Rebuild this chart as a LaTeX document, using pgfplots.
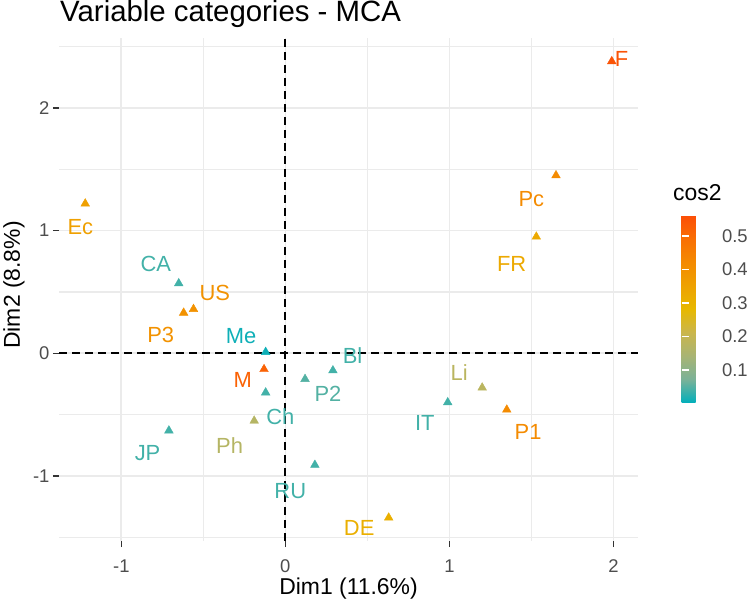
\documentclass[border=0pt]{standalone}
\usepackage{pgfplots}
\pgfplotsset{compat=1.18}
\usepackage{pgfplotstable}
\usepackage{fontspec}
\setmainfont{Liberation Sans}

\definecolor{gridc}{RGB}{235,235,235}
\definecolor{tickc}{RGB}{51,51,51}
\definecolor{ticklab}{RGB}{77,77,77}

% point coordinates and cos2
\pgfplotstableread{
x y cos2
1.99 2.38 0.55
1.65 1.45 0.42
1.53 0.95 0.33
1.20 -0.28 0.18
0.99 -0.40 0.04
1.35 -0.46 0.42
-1.22 1.22 0.36
-0.65 0.57 0.04
-0.56 0.36 0.40
-0.62 0.33 0.40
-0.12 0.01 0.01
-0.13 -0.13 0.52
-0.12 -0.32 0.04
-0.19 -0.55 0.17
0.12 -0.21 0.05
0.29 -0.14 0.04
0.18 -0.91 0.04
0.63 -1.34 0.31
-0.71 -0.63 0.04
}\mcadata

\pgfplotsset{lblstyle/.style={scatter, only marks, mark=none, point meta=explicit,
  every node near coord/.append style={anchor=center, font=\fontsize{22}{24}\selectfont}}}
\newcommand{\lbl}[4]{\addplot[lblstyle, nodes near coords={\pgfplotscolormapdefinemappedcolor{\pgfplotspointmetatransformed}\textcolor{mapped color}{#1}}] coordinates {(#2,#3) [#4]};}

\begin{document}
\begin{tikzpicture}
\begin{axis}[
  at={(59bp,63bp)}, anchor=south west,
  scale only axis, width=579bp, height=503bp,
  xmin=-1.38, xmax=2.15, ymin=-1.53, ymax=2.57,
  axis x line*=bottom, axis y line*=left,
  axis line style={draw=none},
  xtick={-1,0,1,2}, xticklabels={-1,0,1,2},
  ytick={-1,0,1,2}, yticklabels={-1,0,1,2},
  minor xtick={-0.5,0.5,1.5}, minor ytick={-1.5,-0.5,0.5,1.5,2.5},
  grid=both,
  major grid style={draw=gridc, line width=1.7bp},
  minor grid style={draw=gridc, line width=1.2bp},
  minor tick length=0pt,
  major tick length=6bp,
  tick align=outside,
  tick style={draw=tickc, line width=1.4bp},
  ticklabel style={font=\fontsize{18.5}{20}\selectfont, text=ticklab},
  xticklabel style={yshift=-9bp},
  xlabel={Dim1 (11.6\%)}, ylabel={Dim2 (8.8\%)},
  label style={font=\fontsize{23}{26}\selectfont},
  xlabel style={at={(axis description cs:0.5,-0.095)}, anchor=center},
  ylabel style={at={(axis description cs:-0.0777,0.509)}, anchor=center},
  colormap={fx}{rgb255=(0,175,187) rgb255=(122,178,152) rgb255=(168,180,116)
    rgb255=(202,182,76) rgb255=(231,184,0) rgb255=(238,162,1) rgb255=(244,138,1)
    rgb255=(249,111,4) rgb255=(252,78,7)},
  point meta min=0.002, point meta max=0.563,
  colorbar,
  colorbar style={
    at={(parent axis.east)}, anchor=west, xshift=35bp, yshift=-19.5bp,
    scale only axis, width=37bp, height=188bp,
    ytick={0.1,0.2,0.3,0.4,0.5}, yticklabels={0.1,0.2,0.3,0.4,0.5},
    axis line style={draw=none},
    tick align=inside, major tick length=7bp,
    ytick style={draw=white, line width=1.5bp},
    yticklabel style={font=\fontsize{18.5}{20}\selectfont, text=ticklab},
    yticklabel pos=right,
  },
  clip=false,
]
\addplot[black, line width=2.1bp, dash pattern=on 8bp off 5bp, forget plot] coordinates {(0,-1.53) (0,2.57)};
\addplot[black, line width=2.1bp, dash pattern=on 8bp off 5bp, forget plot] coordinates {(-1.38,0) (2.15,0)};
\addplot[scatter, only marks, mark=triangle*, mark size=5bp, point meta=explicit,
  scatter/use mapped color={draw=mapped color, fill=mapped color}]
  table[x=x, y=y, meta=cos2]{\mcadata};
% labels (repelled positions)
\lbl{F}{2.05}{2.40}{0.55}
\lbl{Pc}{1.50}{1.26}{0.42}
\lbl{FR}{1.38}{0.73}{0.33}
\lbl{Li}{1.06}{-0.16}{0.18}
\lbl{IT}{0.85}{-0.57}{0.04}
\lbl{P1}{1.48}{-0.64}{0.42}
\lbl{Ec}{-1.25}{1.03}{0.36}
\lbl{CA}{-0.79}{0.73}{0.04}
\lbl{US}{-0.43}{0.49}{0.40}
\lbl{P3}{-0.76}{0.15}{0.40}
\lbl{Me}{-0.27}{0.14}{0.01}
\lbl{M}{-0.26}{-0.22}{0.52}
\lbl{Ch}{-0.03}{-0.52}{0.04}
\lbl{Ph}{-0.34}{-0.75}{0.17}
\lbl{P2}{0.26}{-0.33}{0.05}
\lbl{Bl}{0.41}{-0.02}{0.04}
\lbl{RU}{0.03}{-1.12}{0.04}
\lbl{DE}{0.45}{-1.42}{0.31}
\lbl{JP}{-0.84}{-0.81}{0.04}
\end{axis}
\node[anchor=base west, font=\fontsize{29.5}{31}\selectfont, inner sep=0pt] at (60bp,582bp) {Variable categories - MCA};
\node[anchor=base west, font=\fontsize{23}{25}\selectfont, inner sep=0pt] at (673bp,403bp) {cos2};
\pgfresetboundingbox
\useasboundingbox (0,0) rectangle (750bp,604bp);
\end{tikzpicture}
\end{document}
